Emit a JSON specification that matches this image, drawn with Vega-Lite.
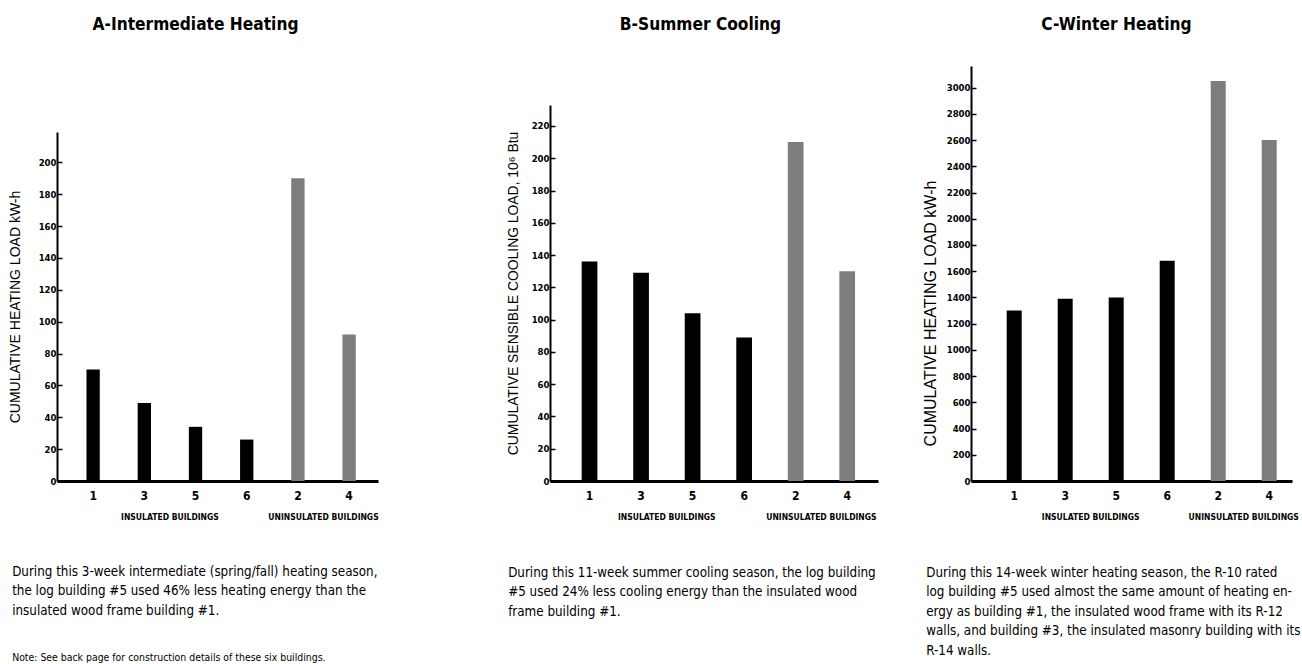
{
  "$schema": "https://vega.github.io/schema/vega-lite/v6.json",
  "padding": {"left": 8, "top": 15, "right": 5, "bottom": 0},
  "spacing": 44,
  "config": {
    "view": {"stroke": null},
    "font": "Liberation Sans Narrow, DejaVu Sans Condensed, Liberation Sans, sans-serif",
    "axis": {"grid": false, "domainColor": "black", "tickColor": "black", "labelColor": "black", "titleColor": "black"},
    "title": {"color": "black", "subtitleColor": "black"}
  },
  "datasets": {
    "a": [
      {"building": "1", "load": 70, "group": "insulated"},
      {"building": "3", "load": 49, "group": "insulated"},
      {"building": "5", "load": 34, "group": "insulated"},
      {"building": "6", "load": 26, "group": "insulated"},
      {"building": "2", "load": 190, "group": "uninsulated"},
      {"building": "4", "load": 92, "group": "uninsulated"}
    ],
    "b": [
      {"building": "1", "load": 136, "group": "insulated"},
      {"building": "3", "load": 129, "group": "insulated"},
      {"building": "5", "load": 104, "group": "insulated"},
      {"building": "6", "load": 89, "group": "insulated"},
      {"building": "2", "load": 210, "group": "uninsulated"},
      {"building": "4", "load": 130, "group": "uninsulated"}
    ],
    "c": [
      {"building": "1", "load": 1300, "group": "insulated"},
      {"building": "3", "load": 1390, "group": "insulated"},
      {"building": "5", "load": 1400, "group": "insulated"},
      {"building": "6", "load": 1680, "group": "insulated"},
      {"building": "2", "load": 3050, "group": "uninsulated"},
      {"building": "4", "load": 2600, "group": "uninsulated"}
    ],
    "groups": [
      {"label": "INSULATED BUILDINGS", "at": "3"},
      {"label": "UNINSULATED BUILDINGS", "at": "2"}
    ]
  },
  "hconcat": [
    {
      "width": 405,
      "height": 415,
      "title": {
        "text": ["During this 3-week intermediate (spring/fall) heating season,", "the log building #5 used 46% less heating energy than the", "insulated wood frame building #1."],
        "subtitle": "Note: See back page for construction details of these six buildings.",
        "orient": "bottom", "anchor": "start", "frame": "bounds", "dx": 4, "offset": 43,
        "fontSize": 13.3, "fontWeight": "normal", "lineHeight": 19.5, "baseline": "top",
        "subtitleFontSize": 10.4, "subtitlePadding": 36
      },
      "resolve": {"axis": {"x": "independent", "y": "independent"}},
      "layer": [
        {
          "data": {"name": "a"},
          "mark": {"type": "bar"},
          "encoding": {
            "x": {"field": "building", "type": "nominal", "sort": ["1", "3", "5", "6", "2", "4"],
              "scale": {"domain": ["1", "3", "5", "6", "2", "4"], "range": [0, 321], "paddingInner": 0.74, "paddingOuter": 0.505, "align": 0.57},
              "axis": {"title": null, "labelAngle": 0, "ticks": false, "domainWidth": 3, "labelFontSize": 12, "labelFontWeight": "bold", "labelPadding": 9}},
            "y": {"field": "load", "type": "quantitative",
              "scale": {"domain": [0, 219], "nice": false, "range": [415, 66]},
              "axis": {"title": "CUMULATIVE HEATING LOAD kW-h", "values": [0, 20, 40, 60, 80, 100, 120, 140, 160, 180, 200], "labelOverlap": false,
                "domainWidth": 2, "tickSize": -5, "tickWidth": 1.5, "labelPadding": 6, "labelFontSize": 9.5, "labelFontWeight": "bold",
                "titleFontSize": 14, "titleFontWeight": "normal", "titlePadding": 16, "titleFont": "Liberation Sans, sans-serif"}},
            "fill": {"field": "group", "type": "nominal", "scale": {"domain": ["insulated", "uninsulated"], "range": ["#000000", "#7d7d7d"]}, "legend": null}
          }
        },
        {
          "data": {"name": "groups"},
          "mark": {"type": "text", "dy": 36, "dx": 25.6, "fontSize": 8.5, "fontWeight": "bold", "color": "black"},
          "encoding": {
            "x": {"field": "at", "type": "nominal",
              "axis": {"orient": "top", "title": "A-Intermediate Heating", "labels": false, "ticks": false, "domain": false,
                "titleX": 138, "titleAlign": "center", "titlePadding": 33, "titleFontSize": 17.2, "titleFontWeight": "bold"}},
            "y": {"datum": 0, "axis": null},
            "text": {"field": "label"}
          }
        }
      ]
    },
    {
      "width": 328,
      "height": 415,
      "title": {
        "text": ["During this 11-week summer cooling season, the log building", "#5 used 24% less cooling energy than the insulated wood", "frame building #1."],
        "orient": "bottom", "anchor": "start", "frame": "bounds", "dx": 2, "offset": 44,
        "fontSize": 13.3, "fontWeight": "normal", "lineHeight": 19.5, "baseline": "top"
      },
      "resolve": {"axis": {"x": "independent", "y": "independent"}},
      "layer": [
        {
          "data": {"name": "b"},
          "mark": {"type": "bar"},
          "encoding": {
            "x": {"field": "building", "type": "nominal", "sort": ["1", "3", "5", "6", "2", "4"],
              "scale": {"domain": ["1", "3", "5", "6", "2", "4"], "paddingInner": 0.695, "paddingOuter": 0.53, "align": 0.58},
              "axis": {"title": null, "labelAngle": 0, "ticks": false, "domainWidth": 3, "labelFontSize": 12, "labelFontWeight": "bold", "labelPadding": 9}},
            "y": {"field": "load", "type": "quantitative",
              "scale": {"domain": [0, 233], "nice": false, "range": [415, 39]},
              "axis": {"title": "CUMULATIVE SENSIBLE COOLING LOAD, 10⁶ Btu", "values": [0, 20, 40, 60, 80, 100, 120, 140, 160, 180, 200, 220], "labelOverlap": false,
                "domainWidth": 2, "tickSize": -5, "tickWidth": 1.5, "labelPadding": 6, "labelFontSize": 9.5, "labelFontWeight": "bold",
                "titleFontSize": 13.9, "titleFontWeight": "normal", "titlePadding": 11, "titleFont": "Liberation Sans, sans-serif"}},
            "fill": {"field": "group", "type": "nominal", "scale": {"domain": ["insulated", "uninsulated"], "range": ["#000000", "#7d7d7d"]}, "legend": null}
          }
        },
        {
          "data": {"name": "groups"},
          "mark": {"type": "text", "dy": 36, "dx": 25.7, "fontSize": 8.5, "fontWeight": "bold", "color": "black"},
          "encoding": {
            "x": {"field": "at", "type": "nominal",
              "axis": {"orient": "top", "title": "B-Summer Cooling", "labels": false, "ticks": false, "domain": false,
                "titleX": 150, "titleAlign": "center", "titlePadding": 33, "titleFontSize": 17.2, "titleFontWeight": "bold"}},
            "y": {"datum": 0, "axis": null},
            "text": {"field": "label"}
          }
        }
      ]
    },
    {
      "width": 321,
      "height": 415,
      "title": {
        "text": ["During this 14-week winter heating season, the R-10 rated", "log building #5 used almost the same amount of heating en-", "ergy as building #1, the insulated wood frame with its R-12", "walls, and building #3, the insulated masonry building with its", "R-14 walls."],
        "orient": "bottom", "anchor": "start", "frame": "bounds", "dx": 4, "offset": 44,
        "fontSize": 13.3, "fontWeight": "normal", "lineHeight": 19.5, "baseline": "top"
      },
      "resolve": {"axis": {"x": "independent", "y": "independent"}},
      "layer": [
        {
          "data": {"name": "c"},
          "mark": {"type": "bar"},
          "encoding": {
            "x": {"field": "building", "type": "nominal", "sort": ["1", "3", "5", "6", "2", "4"],
              "scale": {"domain": ["1", "3", "5", "6", "2", "4"], "paddingInner": 0.706, "paddingOuter": 0.5, "align": 0.7},
              "axis": {"title": null, "labelAngle": 0, "ticks": false, "domainWidth": 3, "labelFontSize": 12, "labelFontWeight": "bold", "labelPadding": 9}},
            "y": {"field": "load", "type": "quantitative",
              "scale": {"domain": [0, 3165], "nice": false},
              "axis": {"title": "CUMULATIVE HEATING LOAD kW-h", "values": [0, 200, 400, 600, 800, 1000, 1200, 1400, 1600, 1800, 2000, 2200, 2400, 2600, 2800, 3000], "format": "d", "labelOverlap": false,
                "domainWidth": 2, "tickSize": -5, "tickWidth": 1.5, "labelPadding": 6, "labelFontSize": 9.5, "labelFontWeight": "bold",
                "titleFontSize": 16, "titleFontWeight": "normal", "titlePadding": 8, "titleY": 247, "titleFont": "Liberation Sans, sans-serif"}},
            "fill": {"field": "group", "type": "nominal", "scale": {"domain": ["insulated", "uninsulated"], "range": ["#000000", "#7d7d7d"]}, "legend": null}
          }
        },
        {
          "data": {"name": "groups"},
          "mark": {"type": "text", "dy": 36, "dx": 25.5, "fontSize": 8.5, "fontWeight": "bold", "color": "black"},
          "encoding": {
            "x": {"field": "at", "type": "nominal",
              "axis": {"orient": "top", "title": "C-Winter Heating", "labels": false, "ticks": false, "domain": false,
                "titleX": 145, "titleAlign": "center", "titlePadding": 33, "titleFontSize": 17.2, "titleFontWeight": "bold"}},
            "y": {"datum": 0, "axis": null},
            "text": {"field": "label"}
          }
        }
      ]
    }
  ]
}
